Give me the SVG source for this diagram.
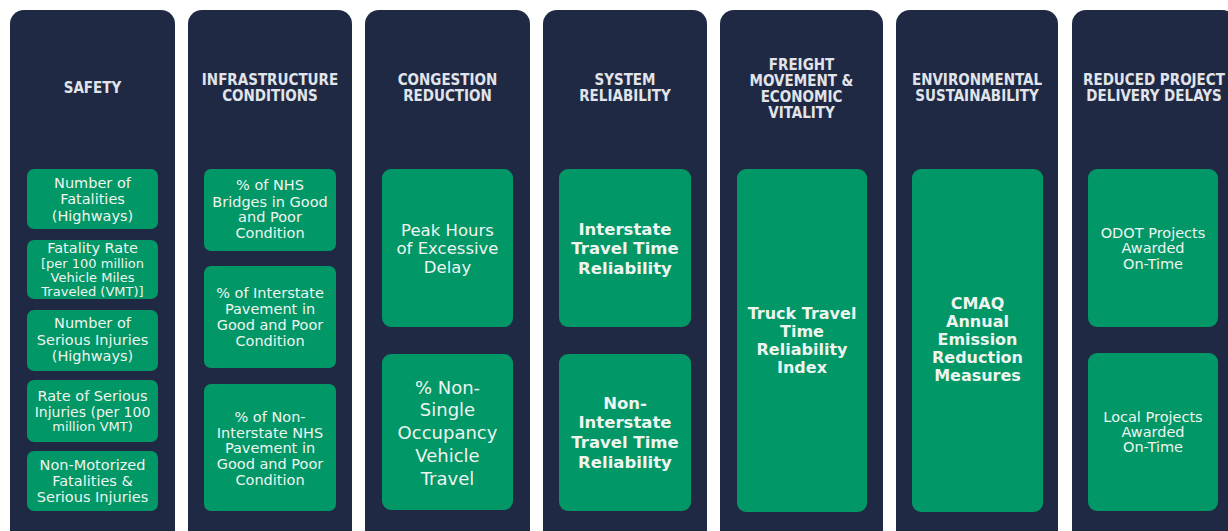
<svg xmlns="http://www.w3.org/2000/svg" width="1228" height="531" viewBox="0 0 1228 531">
<style>
.col{fill:#1f2943}
.box{fill:#019766}
.ttl{font-family:"DejaVu Sans Condensed","DejaVu Sans",Verdana,sans-serif;font-stretch:condensed;font-weight:bold;font-size:15px;fill:#e1e4ea;text-anchor:middle;dominant-baseline:central}
.t{font-family:"DejaVu Sans",Verdana,sans-serif;font-size:14.5px;fill:#eef5f0;text-anchor:middle;dominant-baseline:central}
.s{font-size:13px}
.m{font-size:16.5px}
.l{font-size:18px}
.sb{font-size:16.5px;font-weight:bold}
.b{font-size:16px;font-weight:bold}
</style>
<rect width="1228" height="531" fill="#ffffff"/>
<g id="safety">
<rect class="col" x="10" y="10" width="165" height="540" rx="14"/>
<text class="ttl" x="92.5" y="88">SAFETY</text>
<rect class="box" x="27" y="169" width="131" height="60" rx="7"/>
<text class="t" x="92.5" y="183">Number of</text>
<text class="t" x="92.5" y="199">Fatalities</text>
<text class="t" x="92.5" y="216">(Highways)</text>
<rect class="box" x="27" y="240" width="131" height="59" rx="7"/>
<text class="t" x="92.5" y="248">Fatality Rate</text>
<text class="t s" x="92.5" y="263">[per 100 million</text>
<text class="t s" x="92.5" y="277">Vehicle Miles</text>
<text class="t s" x="92.5" y="291">Traveled (VMT)]</text>
<rect class="box" x="27" y="310" width="131" height="61" rx="7"/>
<text class="t" x="92.5" y="323">Number of</text>
<text class="t" x="92.5" y="340">Serious Injuries</text>
<text class="t" x="92.5" y="356">(Highways)</text>
<rect class="box" x="27" y="380" width="131" height="62" rx="7"/>
<text class="t" x="92.5" y="396">Rate of Serious</text>
<text class="t" x="92.5" y="412" style="font-size:14px">Injuries (per 100</text>
<text class="t s" x="92.5" y="426">million VMT)</text>
<rect class="box" x="27" y="451" width="131" height="60" rx="7"/>
<text class="t" x="92.5" y="465">Non-Motorized</text>
<text class="t" x="92.5" y="481">Fatalities &amp;</text>
<text class="t" x="92.5" y="497">Serious Injuries</text>
</g>
<g id="infrastructure">
<rect class="col" x="188" y="10" width="164" height="540" rx="14"/>
<text class="ttl" x="270" y="80">INFRASTRUCTURE</text>
<text class="ttl" x="270" y="96">CONDITIONS</text>
<rect class="box" x="204" y="169" width="132" height="82" rx="7"/>
<text class="t" x="270" y="185">% of NHS</text>
<text class="t" x="270" y="202">Bridges in Good</text>
<text class="t" x="270" y="217">and Poor</text>
<text class="t" x="270" y="233">Condition</text>
<rect class="box" x="204" y="266" width="132" height="102" rx="7"/>
<text class="t" x="270" y="293">% of Interstate</text>
<text class="t" x="270" y="309">Pavement in</text>
<text class="t" x="270" y="325">Good and Poor</text>
<text class="t" x="270" y="341">Condition</text>
<rect class="box" x="204" y="384" width="132" height="127" rx="7"/>
<text class="t" x="270" y="417">% of Non-</text>
<text class="t" x="270" y="433">Interstate NHS</text>
<text class="t" x="270" y="448">Pavement in</text>
<text class="t" x="270" y="464">Good and Poor</text>
<text class="t" x="270" y="480">Condition</text>
</g>
<g id="congestion">
<rect class="col" x="365" y="10" width="165" height="540" rx="14"/>
<text class="ttl" x="447.5" y="80">CONGESTION</text>
<text class="ttl" x="447.5" y="96">REDUCTION</text>
<rect class="box" x="382" y="169" width="131" height="158" rx="9"/>
<text class="t m" x="447.5" y="230">Peak Hours</text>
<text class="t m" x="447.5" y="248">of Excessive</text>
<text class="t m" x="447.5" y="267">Delay</text>
<rect class="box" x="382" y="354" width="131" height="156" rx="9"/>
<text class="t l" x="447.5" y="387">% Non-</text>
<text class="t l" x="447.5" y="409">Single</text>
<text class="t l" x="447.5" y="432">Occupancy</text>
<text class="t l" x="447.5" y="455">Vehicle</text>
<text class="t l" x="447.5" y="478">Travel</text>
</g>
<g id="reliability">
<rect class="col" x="543" y="10" width="164" height="540" rx="14"/>
<text class="ttl" x="625" y="80">SYSTEM</text>
<text class="ttl" x="625" y="96">RELIABILITY</text>
<rect class="box" x="559" y="169" width="132" height="158" rx="9"/>
<text class="t sb" x="625" y="229">Interstate</text>
<text class="t sb" x="625" y="248">Travel Time</text>
<text class="t sb" x="625" y="268">Reliability</text>
<rect class="box" x="559" y="354" width="132" height="157" rx="9"/>
<text class="t sb" x="625" y="403">Non-</text>
<text class="t sb" x="625" y="422">Interstate</text>
<text class="t sb" x="625" y="442">Travel Time</text>
<text class="t sb" x="625" y="462">Reliability</text>
</g>
<g id="freight">
<rect class="col" x="720" y="10" width="163" height="540" rx="14"/>
<text class="ttl" x="801.5" y="65">FREIGHT</text>
<text class="ttl" x="801.5" y="81">MOVEMENT &amp;</text>
<text class="ttl" x="801.5" y="97">ECONOMIC</text>
<text class="ttl" x="801.5" y="113">VITALITY</text>
<rect class="box" x="737" y="169" width="130" height="343" rx="9"/>
<text class="t b" x="802" y="313">Truck Travel</text>
<text class="t b" x="802" y="331">Time</text>
<text class="t b" x="802" y="349">Reliability</text>
<text class="t b" x="802" y="367">Index</text>
</g>
<g id="environmental">
<rect class="col" x="896" y="10" width="162" height="540" rx="14"/>
<text class="ttl" x="977" y="80">ENVIRONMENTAL</text>
<text class="ttl" x="977" y="96">SUSTAINABILITY</text>
<rect class="box" x="912" y="169" width="131" height="343" rx="9"/>
<text class="t b" x="977.5" y="303">CMAQ</text>
<text class="t b" x="977.5" y="321">Annual</text>
<text class="t b" x="977.5" y="339">Emission</text>
<text class="t b" x="977.5" y="357">Reduction</text>
<text class="t b" x="977.5" y="375">Measures</text>
</g>
<g id="delivery">
<rect class="col" x="1072" y="10" width="164" height="540" rx="14"/>
<text class="ttl" x="1154" y="80">REDUCED PROJECT</text>
<text class="ttl" x="1154" y="96">DELIVERY DELAYS</text>
<rect class="box" x="1088" y="169" width="130" height="158" rx="9"/>
<text class="t" x="1153" y="233">ODOT Projects</text>
<text class="t" x="1153" y="248">Awarded</text>
<text class="t" x="1153" y="264">On-Time</text>
<rect class="box" x="1088" y="353" width="130" height="158" rx="9"/>
<text class="t" x="1153" y="417">Local Projects</text>
<text class="t" x="1153" y="432">Awarded</text>
<text class="t" x="1153" y="447">On-Time</text>
</g>
<g id="connectors"></g>
</svg>
